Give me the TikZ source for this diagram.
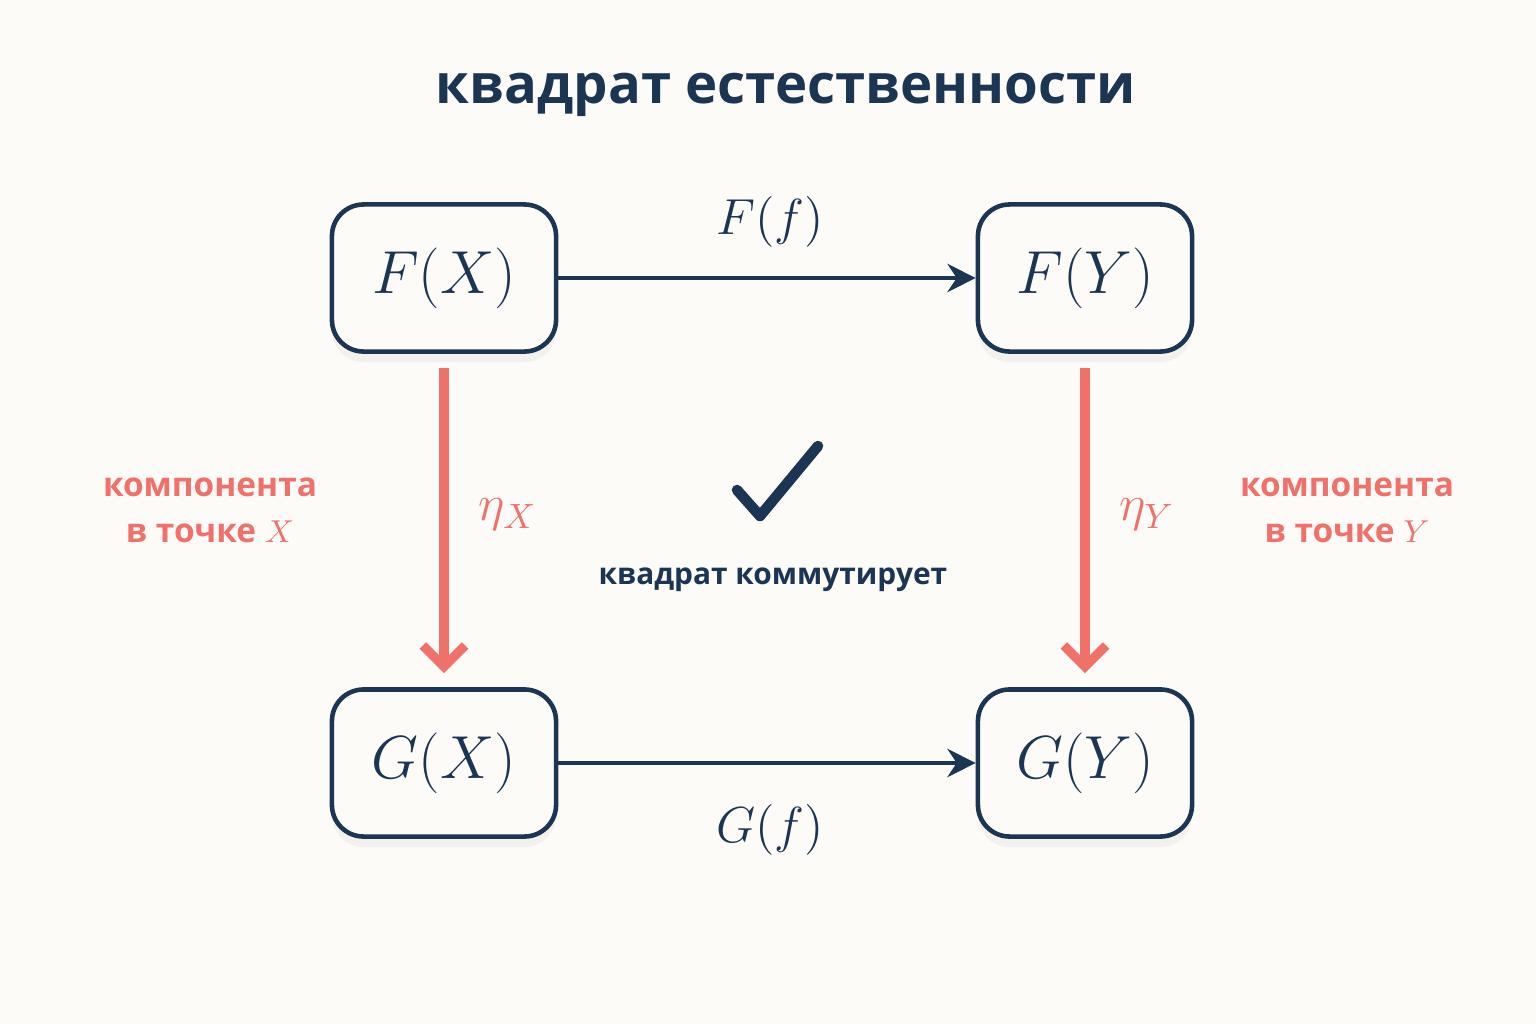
\documentclass[tikz,border=0pt]{standalone}
\usepackage{fontspec}
\setmainfont{Open Sans}
\usepackage{amsmath}
\usetikzlibrary{positioning,shadows,arrows.meta}
\definecolor{navy}{HTML}{1C3553}
\definecolor{salmon}{HTML}{F0706A}
\definecolor{paper}{HTML}{FCFBF8}

\begin{document}
\begin{tikzpicture}[x=0.01cm,y=-0.01cm]
\tikzset{
  obj/.style={draw=navy, line width=1.3pt, rounded corners=9pt, fill=paper,
    minimum height=1.47cm, drop shadow={opacity=0.08, shadow xshift=0pt, shadow yshift=-3pt},
    font=\fontsize{16}{19}\selectfont, text=navy},
  maparr/.style={navy, line width=1.3pt, -{Stealth[length=8pt,width=8pt]}},
  comp/.style={salmon, line width=2.6pt, -{Straight Barb[length=6pt,width=12pt]}},
  lbl/.style={font=\fontsize{14}{17}\selectfont},
  note/.style={text=salmon, font=\bfseries\fontsize{9.5}{13}\selectfont, align=center}
}
\fill[paper] (0,0) rectangle (1536,1024);
% title
\node[text=navy, font=\bfseries\fontsize{15.5}{19}\selectfont] (title) at (786,95) {квадрат естественности};
% objects
\node[obj, minimum width=2.24cm] (FX) at (444,278) {$F(X)$};
\node[obj, minimum width=2.14cm] (FY) at (1085,278) {$F(Y)$};
\node[obj, minimum width=2.24cm] (GX) at (444,763) {$G(X)$};
\node[obj, minimum width=2.14cm] (GY) at (1085,763) {$G(Y)$};
% morphisms
\draw[maparr] (FX) -- (FY);
\draw[maparr] (GX) -- (GY);
\draw[comp] ([yshift=-4pt]FX.south) -- ([yshift=4pt]GX.north);
\draw[comp] ([yshift=-4pt]FY.south) -- ([yshift=4pt]GY.north);
\node[lbl, text=navy] (Ff) at (770,222) {$F(f)$};
\node[lbl, text=navy] (Gf) at (770,830) {$G(f)$};
\node[lbl, text=salmon] (etaX) at (508,515) {$\eta_X$};
\node[lbl, text=salmon] (etaY) at (1147,515) {$\eta_Y$};
% side notes
\node[note] (cx) at (210,510) {компонента\\в точке $X$};
\node[note] (cy) at (1347,510) {компонента\\в точке $Y$};
% check mark
\draw[navy, line width=3pt, line cap=round, line join=round] (737,490) -- (760,516) -- (818,446);
\node[text=navy, font=\bfseries\fontsize{8.5}{11}\selectfont] (comm) at (773,580) {квадрат коммутирует};
\end{tikzpicture}
\end{document}
